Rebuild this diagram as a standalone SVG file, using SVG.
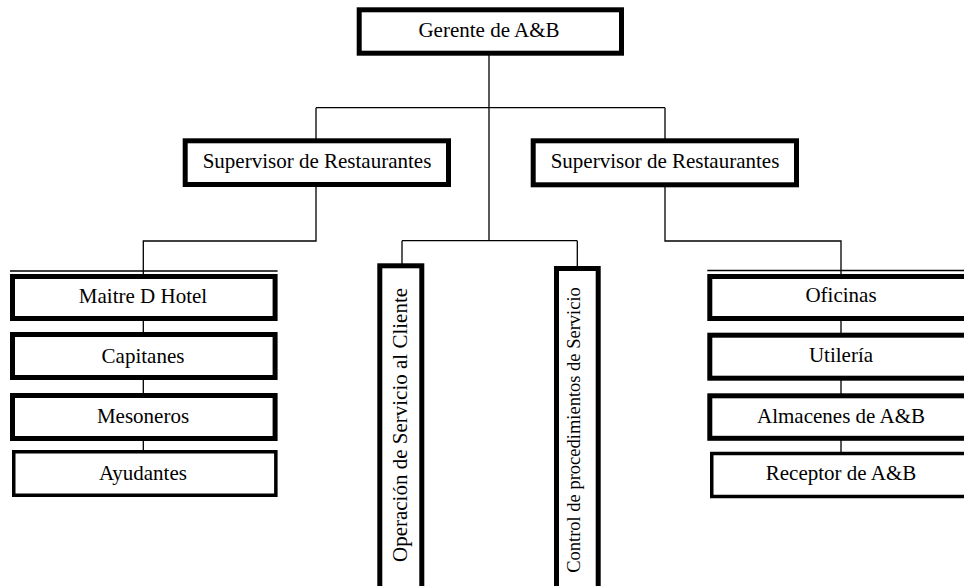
<svg xmlns="http://www.w3.org/2000/svg" width="964" height="586" viewBox="0 0 964 586">
<style>
.box{fill:#fff;stroke:#000;stroke-width:5}
.thin{fill:#fff;stroke:#000;stroke-width:3.5}
.t{font-family:"Liberation Serif","Times New Roman",serif;font-size:21px;fill:#000;text-anchor:middle}
.c{fill:none;stroke:#000;stroke-width:1.3}
</style>
<rect width="964" height="586" fill="#fff"/>
<g id="connectors" class="c">
<path d="M489 55 V240.7 M316 107.7 H665 M316 107.7 V139 M665 107.7 V139"/>
<path d="M316 186 V241 H143.3 V274 M665 186 V241 H841 V274"/>
<path d="M402 240.7 H577.3 M402 240.7 V264 M577.3 240.7 V267"/>
<path d="M143.3 320 V333 M143.3 379 V394 M143.3 440 V451"/>
<path d="M841 320 V333 M841 379 V394 M841 440 V452"/>
<path d="M10 271 H277.6 M707.3 270.5 H964"/>
</g>
<g id="gerente"><rect class="box" x="359.2" y="9.8" width="262.3" height="43.4"/><text class="t" x="489" y="36.7">Gerente de A&amp;B</text></g>
<g id="supervisor-izq"><rect class="box" x="185.2" y="140.8" width="263.3" height="43.7"/><text class="t" x="317" y="168.3">Supervisor de Restaurantes</text></g>
<g id="supervisor-der"><rect class="box" x="533.2" y="140.8" width="263.3" height="44"/><text class="t" x="665" y="168.3">Supervisor de Restaurantes</text></g>
<g id="operacion"><rect class="box" x="379.8" y="265.8" width="42" height="400"/><text class="t" transform="translate(406.7,425) rotate(-90)">Operación de Servicio al Cliente</text></g>
<g id="control"><rect class="box" x="556.5" y="268.5" width="41.7" height="400"/><text class="t" style="font-size:18.5px" transform="translate(580,430) rotate(-90)">Control de procedimientos de Servicio</text></g>
<g id="maitre"><rect class="box" x="12.5" y="276.5" width="262.6" height="42"/><text class="t" x="143" y="302.7">Maitre D Hotel</text></g>
<g id="capitanes"><rect class="box" x="12.5" y="334.5" width="262.6" height="43"/><text class="t" x="143" y="362.7">Capitanes</text></g>
<g id="mesoneros"><rect class="box" x="12.5" y="395.5" width="262.6" height="43"/><text class="t" x="143" y="422.7">Mesoneros</text></g>
<g id="ayudantes"><rect class="thin" x="13.75" y="451.75" width="262.1" height="43.5"/><text class="t" x="143" y="480">Ayudantes</text></g>
<g id="oficinas"><rect class="box" x="709.8" y="276.5" width="300" height="42"/><text class="t" x="841" y="301.7">Oficinas</text></g>
<g id="utileria"><rect class="box" x="709.8" y="335.2" width="300" height="43"/><text class="t" x="841" y="361.7">Utilería</text></g>
<g id="almacenes"><rect class="box" x="709.8" y="395.8" width="300" height="42.5"/><text class="t" x="841" y="422.7">Almacenes de A&amp;B</text></g>
<g id="receptor"><rect class="thin" x="711.75" y="453.5" width="300" height="43"/><text class="t" x="841" y="480">Receptor de A&amp;B</text></g>
</svg>
